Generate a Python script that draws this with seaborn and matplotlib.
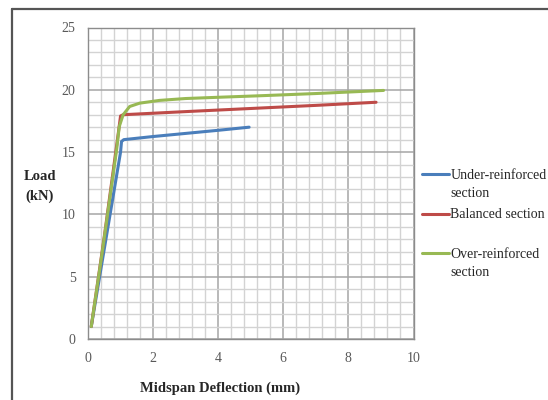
import matplotlib
matplotlib.use("Agg")
import matplotlib.pyplot as plt
from matplotlib.lines import Line2D
from matplotlib.ticker import MultipleLocator
import seaborn as sns
import pandas as pd

# data (deflection in mm, load in kN)
under_x = [0.1, 0.55, 1.0, 1.03, 1.1, 2.0, 3.0, 4.0, 4.95]
under_y = [1.0, 8.0, 15.0, 15.85, 16.0, 16.25, 16.5, 16.75, 17.0]
bal_x = [0.1, 0.5, 0.93, 0.97, 1.0, 1.08, 3.0, 5.0, 7.0, 8.85]
bal_y = [1.0, 8.2, 16.5, 17.3, 17.9, 18.0, 18.25, 18.5, 18.75, 19.0]
over_x = [0.1, 0.45, 0.88, 0.96, 1.08, 1.28, 1.59, 2.2, 3.0, 4.0, 5.26, 7.0, 9.08]
over_y = [1.0, 7.2, 15.2, 17.05, 18.0, 18.66, 18.93, 19.15, 19.3, 19.4, 19.52, 19.7, 19.95]

series = ["Under-reinforced\nsection", "Balanced section\n ", "Over-reinforced\nsection"]
colors = ["#4A7EBB", "#BE4B48", "#98B954"]

df = pd.concat([
    pd.DataFrame({"x": under_x, "y": under_y, "s": series[0]}),
    pd.DataFrame({"x": bal_x, "y": bal_y, "s": series[1]}),
    pd.DataFrame({"x": over_x, "y": over_y, "s": series[2]}),
])

sns.set_style("white")
plt.rcParams["font.family"] = ["Liberation Serif", "DejaVu Serif"]

fig = plt.figure(figsize=(5.48, 4.0), dpi=100)
ax = fig.add_axes([88 / 548, 1 - 339 / 400, 325.5 / 548, 311.5 / 400])

sns.lineplot(data=df, x="x", y="y", hue="s", hue_order=series,
             palette=colors, sort=False, estimator=None, lw=2.2,
             legend=False, ax=ax, solid_capstyle="round", zorder=3)

ax.set_xlim(0, 10)
ax.set_ylim(0, 25)
ax.xaxis.set_major_locator(MultipleLocator(2))
ax.xaxis.set_minor_locator(MultipleLocator(0.4))
ax.yaxis.set_major_locator(MultipleLocator(5))
ax.yaxis.set_minor_locator(MultipleLocator(1))
ax.set_axisbelow(True)
ax.grid(which="major", color="#a6a6a6", lw=1.1)
ax.grid(which="minor", color="#d3d3d3", lw=1.0)
for sp in ax.spines.values():
    sp.set_color("#8c8c8c")
    sp.set_linewidth(1.0)

ax.tick_params(which="major", length=4, width=1, color="#8c8c8c",
               labelsize=10, labelcolor="#595959")
ax.tick_params(axis="y", pad=5)
ax.tick_params(axis="x", pad=5)
ax.tick_params(which="minor", length=0)

ax.set_xlabel("Midspan Deflection (mm)", fontsize=10.5, fontweight="bold")
ax.xaxis.set_label_coords(0.407, -0.135)
ax.set_ylabel("Load\n(kN)", fontsize=10.5, fontweight="bold", rotation=0,
              ha="center", va="center", linespacing=1.6)
ax.yaxis.set_label_coords(-0.148, 0.49)

handles = [Line2D([], [], color=c, lw=2.2) for c in colors]
leg = ax.legend(handles, series, loc="upper left",
                bbox_to_anchor=(422 / 548, 1 - 169 / 400),
                bbox_transform=fig.transFigure, frameon=False, fontsize=10,
                handlelength=1.95, handletextpad=0.1, handleheight=1.0,
                borderpad=0, borderaxespad=0, labelspacing=0.6)
for t in leg.get_texts():
    t.set_linespacing(1.5)
for col in leg._legend_handle_box.get_children():
    for item in col.get_children():
        item.align = "top"

# outer chart border (left and top)
fig.add_artist(Line2D([12 / 548, 12 / 548], [0, 1 - 8.5 / 400],
                      transform=fig.transFigure, color="#555555", lw=1.6))
fig.add_artist(Line2D([12 / 548, 1], [1 - 8.5 / 400, 1 - 8.5 / 400],
                      transform=fig.transFigure, color="#555555", lw=1.6))

fig.savefig("out.png", dpi=100)
